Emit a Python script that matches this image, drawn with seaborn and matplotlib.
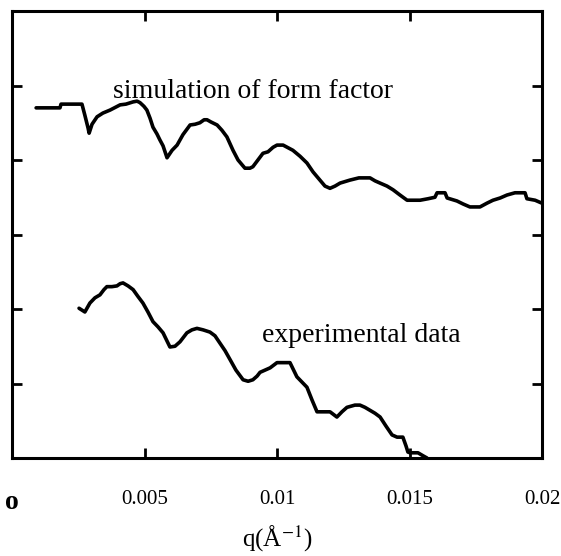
import numpy as np
import pandas as pd
import seaborn as sns
import matplotlib
matplotlib.use("Agg")
import matplotlib.pyplot as plt

# ---- data ----
sim_q = [0.00091, 0.00181, 0.00185, 0.00264, 0.00275, 0.00287, 0.00291, 0.00302, 0.00321, 0.00343,
         0.00370, 0.00408, 0.00430, 0.00457, 0.00472, 0.00483, 0.00498, 0.00509, 0.00521, 0.00532,
         0.00547, 0.00558, 0.00570, 0.00585, 0.00604, 0.00623, 0.00645, 0.00672, 0.00691, 0.00709,
         0.00725, 0.00736, 0.00751, 0.00774, 0.00792, 0.00811, 0.00834, 0.00853, 0.00879, 0.00898,
         0.00909, 0.00928, 0.00947, 0.00966, 0.00985, 0.01000, 0.01023, 0.01060, 0.01087, 0.01113,
         0.01136, 0.01162, 0.01181, 0.01200, 0.01219, 0.01238, 0.01275, 0.01309, 0.01336, 0.01351,
         0.01370, 0.01389, 0.01415, 0.01438, 0.01464, 0.01491, 0.01540, 0.01570, 0.01596, 0.01604,
         0.01634, 0.01642, 0.01679, 0.01702, 0.01728, 0.01766, 0.01792, 0.01815, 0.01842, 0.01868,
         0.01898, 0.01936, 0.01943, 0.01974, 0.02000]
sim_i = [4.70, 4.70, 4.75, 4.75, 4.60, 4.43, 4.36, 4.48, 4.58, 4.63,
         4.67, 4.74, 4.75, 4.78, 4.79, 4.77, 4.72, 4.67, 4.56, 4.44,
         4.35, 4.27, 4.19, 4.03, 4.13, 4.20, 4.34, 4.47, 4.48, 4.50,
         4.54, 4.54, 4.51, 4.47, 4.40, 4.31, 4.13, 4.00, 3.89, 3.89,
         3.91, 4.00, 4.09, 4.11, 4.17, 4.20, 4.20, 4.13, 4.05, 3.96,
         3.84, 3.73, 3.65, 3.62, 3.65, 3.69, 3.73, 3.76, 3.76, 3.76,
         3.72, 3.69, 3.65, 3.60, 3.53, 3.46, 3.46, 3.48, 3.50, 3.56,
         3.56, 3.49, 3.45, 3.41, 3.37, 3.37, 3.42, 3.46, 3.49, 3.53,
         3.56, 3.56, 3.48, 3.46, 3.42]

exp_q = [0.00253, 0.00275, 0.00294, 0.00313, 0.00332, 0.00347, 0.00358, 0.00377, 0.00396, 0.00408,
         0.00419, 0.00438, 0.00457, 0.00475, 0.00494, 0.00513, 0.00532, 0.00551, 0.00570, 0.00585,
         0.00596, 0.00615, 0.00634, 0.00660, 0.00679, 0.00698, 0.00721, 0.00747, 0.00766, 0.00785,
         0.00804, 0.00823, 0.00845, 0.00872, 0.00891, 0.00909, 0.00925, 0.00936, 0.00955, 0.00974,
         0.01000, 0.01023, 0.01049, 0.01075, 0.01094, 0.01113, 0.01132, 0.01151, 0.01181, 0.01200,
         0.01226, 0.01245, 0.01264, 0.01294, 0.01313, 0.01332, 0.01351, 0.01370, 0.01389, 0.01411,
         0.01434, 0.01453, 0.01475, 0.01487, 0.01494, 0.01502, 0.01532, 0.01551, 0.01566]
exp_i = [2.01, 1.96, 2.08, 2.15, 2.19, 2.26, 2.30, 2.30, 2.31, 2.34,
         2.35, 2.31, 2.26, 2.17, 2.08, 1.96, 1.83, 1.76, 1.68, 1.57,
         1.49, 1.50, 1.56, 1.68, 1.72, 1.74, 1.72, 1.69, 1.64, 1.54,
         1.44, 1.32, 1.18, 1.05, 1.03, 1.05, 1.10, 1.15, 1.18, 1.21,
         1.28, 1.28, 1.28, 1.09, 1.02, 0.95, 0.78, 0.62, 0.62, 0.62,
         0.55, 0.62, 0.68, 0.71, 0.71, 0.68, 0.64, 0.60, 0.55, 0.43,
         0.31, 0.28, 0.28, 0.16, 0.08, 0.07, 0.07, 0.03, 0.00]

x_ticks = [0, 0.005, 0.01, 0.015, 0.02]
x_tick_labels = ["o", "0.005", "0.01", "0.015", "0.02"]
y_ticks = [0, 1, 2, 3, 4, 5, 6]
label_sim = "simulation of form factor"
label_exp = "experimental data"
x_label = "q(Å$^{-1}$)"

sns.set_style("ticks")
plt.rcParams["font.family"] = ["Liberation Serif", "DejaVu Serif"]
plt.rcParams["mathtext.fontset"] = "stix"
plt.rcParams["text.color"] = "black"
plt.rcParams["axes.labelcolor"] = "black"
plt.rcParams["xtick.color"] = "black"
plt.rcParams["ytick.color"] = "black"

fig = plt.figure(figsize=(5.61, 5.56), dpi=100)
ax = fig.add_axes([12/561, 1 - 458/556, 530/561, 447/556])

sim_df = pd.DataFrame({"q": sim_q, "I": sim_i})
exp_df = pd.DataFrame({"q": exp_q, "I": exp_i})
sns.lineplot(data=sim_df, x="q", y="I", sort=False, estimator=None, color="black", lw=2.6, ax=ax)
sns.lineplot(data=exp_df, x="q", y="I", sort=False, estimator=None, color="black", lw=2.6, ax=ax)

ax.set_xlim(0, 0.02)
ax.set_ylim(0, 6)
ax.set_xticks(x_ticks)
ax.set_xticklabels(x_tick_labels, fontsize=15)
ax.get_xticklabels()[0].set_fontsize(20)
ax.get_xticklabels()[0].set_fontweight("bold")
ax.set_yticks(y_ticks)
ax.set_yticklabels([])
ax.tick_params(direction="in", length=7, width=2, top=True, right=True, pad=23)
ax.tick_params(axis="y", pad=2)
for s in ax.spines.values():
    s.set_linewidth(2.2)
    s.set_color("black")

ax.set_xlabel(x_label, fontsize=18, labelpad=6, color="black")
ax.set_ylabel("")

ax.text(0.00381, 4.83, label_sim, fontsize=20, ha="left", va="baseline", color="black")
ax.text(0.00943, 1.56, label_exp, fontsize=20, ha="left", va="baseline", color="black")

fig.savefig("out.png", dpi=100)
